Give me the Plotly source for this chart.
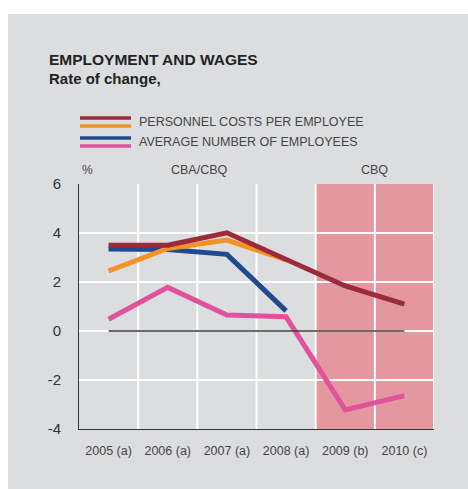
import plotly.graph_objects as go

years = ["2005 (a)", "2006 (a)", "2007 (a)", "2008 (a)", "2009 (b)", "2010 (c)"]
personnel_cbq = [3.5, 3.5, 4.01, 2.9, 1.84, 1.1]      # dark red
personnel_cba = [2.45, 3.37, 3.71, 2.9, None, None]   # orange
employees_cba = [3.35, 3.33, 3.13, 0.82, None, None]  # blue
employees_cbq = [0.48, 1.78, 0.65, 0.58, -3.22, -2.64]  # pink
y_ticks = [-4, -2, 0, 2, 4, 6]
y_labels = ["-4", "-2", "0", "2", "4", "6"]

C_RED = "#9b2a3a"
C_ORANGE = "#f39326"
C_BLUE = "#1f4b8e"
C_PINK = "#e0539c"
BG = "#dcdddf"
SHADE = "#e597a0"

W, H = 468, 489
L, R, T, B = 79, 34, 184, 60
PW, PH = W - L - R, H - T - B


def px(x):
    return (x - L) / PW


def py(y):
    return (H - B - y) / PH


xs = list(range(len(years)))
fig = go.Figure()
for vals, col in [(employees_cbq, C_PINK), (employees_cba, C_BLUE),
                  (personnel_cba, C_ORANGE), (personnel_cbq, C_RED)]:
    fig.add_trace(go.Scatter(x=xs, y=vals, mode="lines",
                             line=dict(color=col, width=5),
                             showlegend=False, hoverinfo="skip"))

shapes = [
    dict(type="rect", xref="paper", yref="paper", x0=px(8), x1=px(470),
         y0=py(14), y1=py(492), fillcolor=BG, line=dict(width=0), layer="below"),
    dict(type="rect", xref="x", yref="y", x0=3.5, x1=5.5, y0=-4, y1=6,
         fillcolor=SHADE, line=dict(width=0), layer="below"),
]
for xv in [0.5, 1.5, 2.5, 3.5, 4.5, 5.5]:
    shapes.append(dict(type="line", xref="x", yref="y", x0=xv, x1=xv, y0=-4, y1=6,
                       line=dict(color="white", width=2), layer="below"))
shapes.append(dict(type="line", xref="x", yref="y", x0=0, x1=5, y0=0, y1=0,
                   line=dict(color="#3a3a3a", width=1.6), layer="above"))
# legend swatches
for yy, col in [(118, C_RED), (126, C_ORANGE), (138, C_BLUE), (146, C_PINK)]:
    shapes.append(dict(type="line", xref="paper", yref="paper",
                       x0=px(80), x1=px(131), y0=py(yy), y1=py(yy),
                       line=dict(color=col, width=3.5)))

FONT = "Liberation Sans, Arial, sans-serif"
ann = [
    dict(text="EMPLOYMENT AND WAGES", x=px(47), y=py(59), xanchor="left", yanchor="middle",
         font=dict(size=15.5, color="#222", family=FONT, weight="bold")),
    dict(text="Rate of change,", x=px(47), y=py(79), xanchor="left", yanchor="middle",
         font=dict(size=15, color="#222", family=FONT, weight="bold")),
    dict(text="PERSONNEL COSTS PER EMPLOYEE", x=px(137), y=py(122), xanchor="left", yanchor="middle",
         font=dict(size=12.5, color="#444", family=FONT)),
    dict(text="AVERAGE NUMBER OF EMPLOYEES", x=px(137), y=py(142), xanchor="left", yanchor="middle",
         font=dict(size=12.5, color="#444", family=FONT)),
    dict(text="%", x=px(80), y=py(170), xanchor="left", yanchor="middle",
         font=dict(size=12, color="#444", family=FONT)),
    dict(text="CBA/CBQ", x=px(199), y=py(170), xanchor="center", yanchor="middle",
         font=dict(size=12.5, color="#444", family=FONT)),
    dict(text="CBQ", x=px(374), y=py(170), xanchor="center", yanchor="middle",
         font=dict(size=12.5, color="#444", family=FONT)),
]
for a in ann:
    a.update(xref="paper", yref="paper", showarrow=False)

fig.update_layout(
    width=W, height=H,
    margin=dict(l=L, r=R, t=T, b=B),
    paper_bgcolor="white", plot_bgcolor=BG,
    shapes=shapes, annotations=ann,
    xaxis=dict(range=[-0.5, 5.5], tickvals=xs, ticktext=years,
               showgrid=False, zeroline=False, showline=True, linecolor="#333", linewidth=1,
               ticks="", ticklabelstandoff=10,
               tickfont=dict(size=12.5, color="#444", family=FONT),
               fixedrange=True),
    yaxis=dict(range=[-4, 6], tickvals=y_ticks, ticktext=y_labels,
               showgrid=True, gridcolor="white", gridwidth=2,
               zeroline=False, showline=True, linecolor="#333", linewidth=1,
               ticks="", ticklabelstandoff=14,
               tickfont=dict(size=15, color="#333", family=FONT), fixedrange=True),
)

fig.write_html("out.html")
